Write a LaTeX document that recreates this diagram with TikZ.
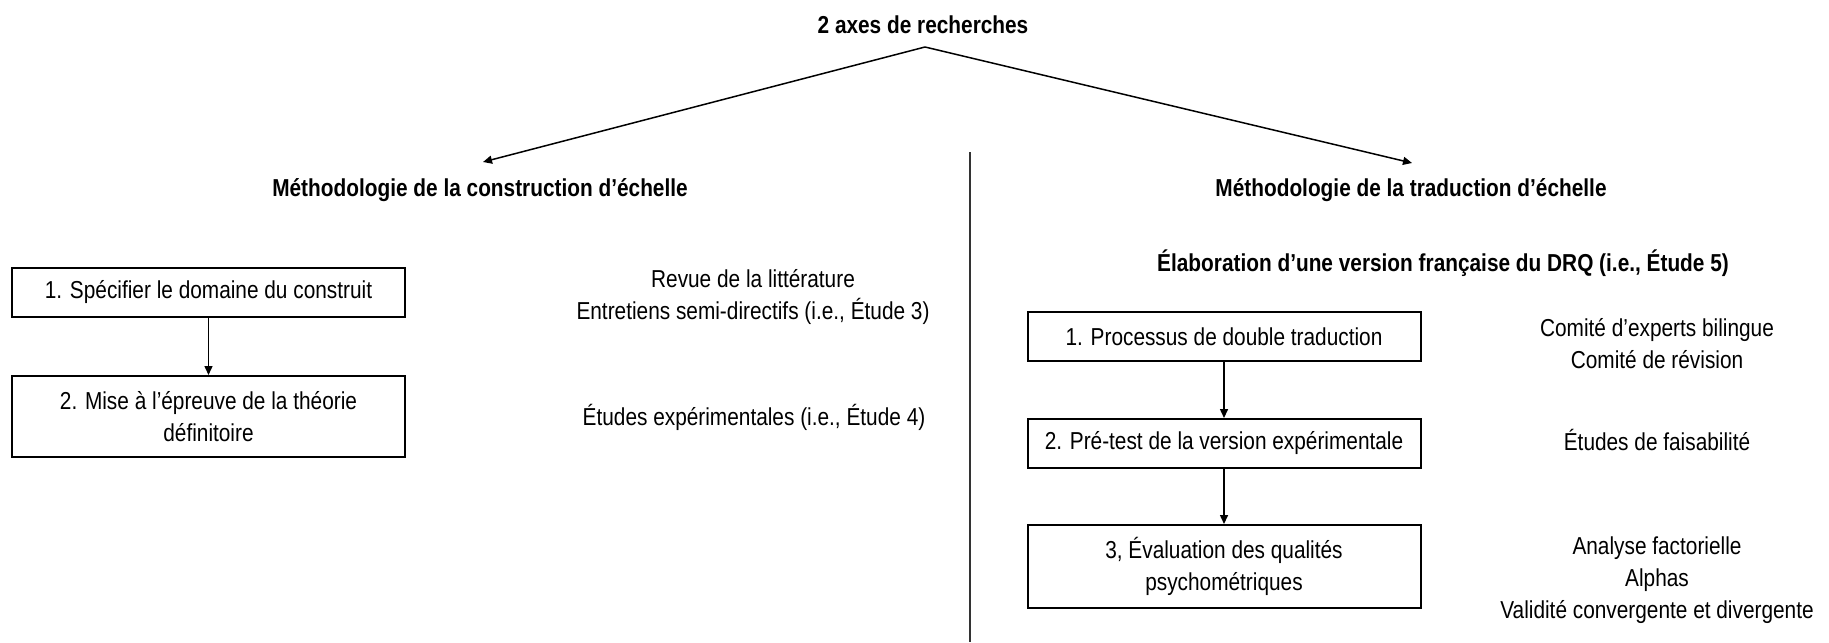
\documentclass[tikz,border=0pt]{standalone}
\usepackage{fontspec}
\setmainfont{Liberation Sans}[FakeStretch=0.85]
\usetikzlibrary{arrows.meta}
\tikzset{
  txt/.style={font=\fontsize{12.25pt}{16pt}\selectfont, align=center, inner sep=0pt},
  hd/.style={txt, font=\fontsize{12.25pt}{16pt}\selectfont\bfseries},
  stepbox/.style={txt, draw, line width=1pt, minimum width=196.5pt},
  conn/.style={line width=0.75pt, -{Triangle[length=4.5pt,width=4pt]}},
  sep/.style={line width=0.9pt, black!80},
}
\begin{document}
\begin{tikzpicture}[x=0.5pt,y=-0.5pt]
\useasboundingbox (0,0) rectangle (1829,642);
% title and headings
\node[hd] (title) at (923,25) {2 axes de recherches};
\coordinate (apex) at (925,47);
\coordinate (ltip) at (483,162);
\coordinate (rtip) at (1412,163);
\node[hd] (lh) at (480,190) {Méthodologie de la construction d’échelle};
\node[hd] (rh) at (1411,190) {Méthodologie de la traduction d’échelle};
\draw[conn] (apex) -- (ltip);
\draw[conn] (apex) -- (rtip);
% separator
\coordinate (septop) at (970,152);
\coordinate (sepbot) at (970,642);
\draw[sep] (septop) -- (sepbot);
% left column
\node[stepbox, minimum height=24.5pt] (lb1) at (208.5,292.5) {1. Spécifier le domaine du construit};
\node[stepbox, minimum height=40.5pt] (lb2) at (208.5,416.5) {2. Mise à l’épreuve de la théorie\\définitoire};
\draw[conn] (lb1) -- (lb2);
\node[txt] (lt1) at (753,297.5) {Revue de la littérature\\Entretiens semi-directifs (i.e., Étude 3)};
\node[txt] (lt2) at (754,417) {Études expérimentales (i.e., Étude 4)};
% right column
\node[hd] (rsub) at (1443,263) {Élaboration d’une version française du DRQ (i.e., Étude 5)};
\node[stepbox, minimum height=24.5pt] (rb1) at (1224,336.5) {1. Processus de double traduction};
\node[stepbox, minimum height=24.5pt] (rb2) at (1224,443.5) {2. Pré-test de la version expérimentale};
\node[stepbox, minimum height=41.5pt] (rb3) at (1224,566.5) {3, Évaluation des qualités\\psychométriques};
\draw[conn] (rb1) -- (rb2);
\draw[conn] (rb2) -- (rb3);
\node[txt] (rt1) at (1657,344) {Comité d’experts bilingue\\Comité de révision};
\node[txt] (rt2) at (1657,440) {Études de faisabilité};
\node[txt] (rt3) at (1657,580) {Analyse factorielle\\Alphas\\Validité convergente et divergente};
\end{tikzpicture}
\end{document}
